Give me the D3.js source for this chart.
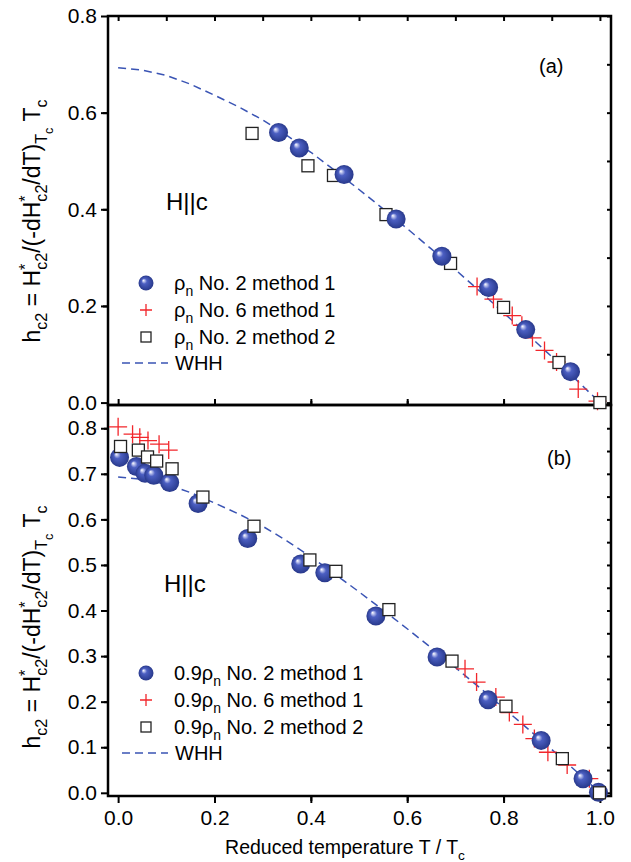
<!DOCTYPE html>
<html>
<head>
<meta charset="utf-8">
<script src="https://cdn.jsdelivr.net/npm/d3@7"></script>
<style>
  body { margin: 0; background: #fff; }
  text { font-family: "Liberation Sans", Arial, sans-serif; fill: #000; }
</style>
</head>
<body>
<div id="chart"></div>
<script>
// ---- data ----
// WHH curve (same in both panels)
var whhT = [0, 0.05, 0.1, 0.15, 0.2, 0.25, 0.3, 0.35, 0.4, 0.45, 0.5, 0.55, 0.6, 0.65, 0.7, 0.75, 0.8, 0.85, 0.9, 0.95, 1.0];
var whhH = [0.693, 0.688, 0.677, 0.659, 0.636, 0.612, 0.585, 0.553, 0.518, 0.480, 0.441, 0.401, 0.360, 0.318, 0.275, 0.231, 0.186, 0.141, 0.095, 0.048, 0.0];

// panel (a): rho_n
var tA_sphere = [0.333, 0.376, 0.469, 0.577, 0.672, 0.769, 0.846, 0.939];
var hA_sphere = [0.559, 0.527, 0.472, 0.380, 0.303, 0.238, 0.151, 0.064];
var tA_cross = [0.745, 0.779, 0.818, 0.838, 0.86, 0.885, 0.91, 0.955, 0.995];
var hA_cross = [0.240, 0.214, 0.180, 0.160, 0.134, 0.108, 0.084, 0.028, 0.003];
var tA_square = [0.278, 0.394, 0.447, 0.556, 0.690, 0.800, 0.915, 1.0];
var hA_square = [0.557, 0.490, 0.470, 0.389, 0.288, 0.197, 0.083, 0.0];

// panel (b): 0.9 rho_n
var tB_sphere = [0.003, 0.038, 0.056, 0.074, 0.107, 0.166, 0.269, 0.379, 0.429, 0.535, 0.662, 0.768, 0.878, 0.965, 0.997];
var hB_sphere = [0.736, 0.716, 0.701, 0.697, 0.681, 0.635, 0.558, 0.502, 0.483, 0.388, 0.298, 0.204, 0.115, 0.031, 0.001];
var tB_cross = [0.0, 0.03, 0.045, 0.062, 0.085, 0.105, 0.72, 0.744, 0.784, 0.812, 0.84, 0.864, 0.892, 0.932, 0.978];
var hB_cross = [0.803, 0.787, 0.780, 0.773, 0.765, 0.752, 0.272, 0.243, 0.210, 0.176, 0.150, 0.119, 0.089, 0.061, 0.031];
var tB_square = [0.005, 0.042, 0.061, 0.080, 0.112, 0.176, 0.282, 0.398, 0.452, 0.562, 0.693, 0.805, 0.922, 0.999];
var hB_square = [0.760, 0.752, 0.737, 0.728, 0.711, 0.649, 0.585, 0.511, 0.486, 0.402, 0.289, 0.190, 0.075, 0.0];

// tick labels
var xTicks = [0, 0.2, 0.4, 0.6, 0.8, 1.0];
var yTopTicks = [0, 0.2, 0.4, 0.6, 0.8];
var yBotTicks = [0, 0.1, 0.2, 0.3, 0.4, 0.5, 0.6, 0.7, 0.8];

var legendA = ["No. 2 method 1", "No. 6 method 1", "No. 2 method 2", "WHH"];
var legendB = ["No. 2 method 1", "No. 6 method 1", "No. 2 method 2", "WHH"];

// ---- layout ----
var svg = d3.select("#chart").append("svg")
    .attr("width", 631)
    .attr("height", 862);

var x = d3.scaleLinear().domain([-0.021, 1.023]).range([108, 611]);
var yTop = d3.scaleLinear().domain([-0.005, 0.8]).range([405, 16]);
var yBot = d3.scaleLinear().domain([-0.007, 0.851]).range([796, 405]);

var fmt = d3.format(".1f");
var red = "#f2262b";
var blue = "#3a54b4";

// sphere gradient
var defs = svg.append("defs");
var grad = defs.append("radialGradient")
    .attr("id", "ball")
    .attr("cx", "50%").attr("cy", "50%").attr("r", "50%")
    .attr("fx", "32%").attr("fy", "32%");
grad.append("stop").attr("offset", "0%").attr("stop-color", "#ffffff");
grad.append("stop").attr("offset", "12%").attr("stop-color", "#c4caf0");
grad.append("stop").attr("offset", "36%").attr("stop-color", "#4c5fc2");
grad.append("stop").attr("offset", "80%").attr("stop-color", "#33459d");
grad.append("stop").attr("offset", "100%").attr("stop-color", "#28388a");

function range(a, b, s) {
    return d3.range(Math.round(a / s), Math.round(b / s) + 1).map(i => +(i * s).toFixed(3));
}

// draw a set of ticks with an axis generator, no domain line
function ticks(axis, tx, ty, labels) {
    var g = svg.append("g")
        .attr("transform", `translate(${tx}, ${ty})`)
        .call(axis);
    g.select(".domain").remove();
    g.selectAll(".tick line").attr("stroke", "#000").attr("stroke-width", 2);
    if (labels) {
        g.selectAll(".tick text")
            .attr("font-size", 21)
            .attr("font-family", "Liberation Sans, Arial, sans-serif")
            .attr("fill", "#000");
    } else {
        g.selectAll(".tick text").remove();
    }
    return g;
}

// text with sub / superscripts
function richText(sel, parts, size) {
    var cur = 0;
    parts.forEach(function(p) {
        var fs = size, off = 0, dx = 0;
        if (p[1] === "sub") { fs = size * 0.7; off = size * 0.3; }
        if (p[1] === "sup") { fs = size * 0.7; off = -size * 0.4; }
        if (p[1] === "stack") { fs = size * 0.7; off = size * 0.3; dx = -size * 0.27; }
        if (p[1] === "subsub") { fs = size * 0.55; off = size * 0.55; }
        sel.append("tspan")
            .attr("font-size", fs)
            .attr("dy", off - cur)
            .attr("dx", dx)
            .text(p[0]);
        cur = off;
    });
}

// frames
svg.append("rect").attr("x", 108).attr("y", 16).attr("width", 503).attr("height", 389)
    .attr("fill", "none").attr("stroke", "#000").attr("stroke-width", 2.5);
svg.append("rect").attr("x", 108).attr("y", 405).attr("width", 503).attr("height", 391)
    .attr("fill", "none").attr("stroke", "#000").attr("stroke-width", 2.5);

// panel (a) ticks
ticks(d3.axisLeft(yTop).tickValues(yTopTicks).tickSize(7).tickPadding(4).tickFormat(fmt), 108, 0, true);
ticks(d3.axisLeft(yTop).tickValues(range(0.1, 0.7, 0.2)).tickSize(5), 108, 0, false);
ticks(d3.axisLeft(yTop).tickValues(range(0, 0.8, 0.1)).tickSize(4), 611, 0, false);
ticks(d3.axisBottom(x).tickValues(range(0, 1, 0.1)).tickSize(5), 0, 16, false);
ticks(d3.axisTop(x).tickValues(xTicks).tickSize(6), 0, 405, false);
ticks(d3.axisTop(x).tickValues(range(0.1, 0.9, 0.2)).tickSize(4), 0, 405, false);

// panel (b) ticks
ticks(d3.axisLeft(yBot).tickValues(yBotTicks).tickSize(7).tickPadding(4).tickFormat(fmt), 108, 0, true);
ticks(d3.axisLeft(yBot).tickValues(range(0.05, 0.75, 0.1)).tickSize(4), 108, 0, false);
ticks(d3.axisLeft(yBot).tickValues(range(0, 0.8, 0.05)).tickSize(4), 611, 0, false);
ticks(d3.axisBottom(x).tickValues(xTicks).tickSize(7).tickPadding(7).tickFormat(fmt), 0, 796, true);
ticks(d3.axisBottom(x).tickValues(range(0.1, 0.9, 0.2)).tickSize(5), 0, 796, false);

// ---- marks ----
var line = d3.line().x(d => x(d[0]));

function whh(y) {
    svg.append("path")
        .datum(d3.zip(whhT, whhH))
        .attr("d", line.y(d => y(d[1])))
        .attr("fill", "none")
        .attr("stroke", blue)
        .attr("stroke-width", 1.5)
        .attr("stroke-dasharray", "8,5");
}

function crosses(ts, hs, y, s) {
    var g = svg.append("g");
    d3.zip(ts, hs).forEach(function(d) {
        var cx = x(d[0]), cy = y(d[1]);
        g.append("path")
            .attr("d", `M${cx - s},${cy}H${cx + s}M${cx},${cy - s}V${cy + s}`)
            .attr("stroke", red)
            .attr("stroke-width", 1.3)
            .attr("fill", "none");
    });
}

function squares(ts, hs, y, s) {
    svg.append("g").selectAll("rect")
        .data(d3.zip(ts, hs))
        .enter()
        .append("rect")
        .attr("x", d => x(d[0]) - s / 2)
        .attr("y", d => y(d[1]) - s / 2)
        .attr("width", s)
        .attr("height", s)
        .attr("fill", "#fff")
        .attr("stroke", "#222")
        .attr("stroke-width", 1.3);
}

function spheres(ts, hs, y, r) {
    svg.append("g").selectAll("circle")
        .data(d3.zip(ts, hs))
        .enter()
        .append("circle")
        .attr("cx", d => x(d[0]))
        .attr("cy", d => y(d[1]))
        .attr("r", r)
        .attr("fill", "url(#ball)");
}

// panel (a)
whh(yTop);
crosses(tA_cross, hA_cross, yTop, 9);
squares(tA_square, hA_square, yTop, 12);
spheres(tA_sphere, hA_sphere, yTop, 9.5);

// panel (b)
whh(yBot);
crosses(tB_cross, hB_cross, yBot, 9);
spheres(tB_sphere, hB_sphere, yBot, 9.5);
squares(tB_square, hB_square, yBot, 12);

// ---- legends ----
function legend(y0, prefix, labels) {
    var rows = [y0, y0 + 27, y0 + 54, y0 + 80];
    svg.append("circle").attr("cx", 146).attr("cy", rows[0]).attr("r", 7.5).attr("fill", "url(#ball)");
    svg.append("path")
        .attr("d", `M140,${rows[1]}H152M146,${rows[1] - 6}V${rows[1] + 6}`)
        .attr("stroke", red).attr("stroke-width", 1.3);
    svg.append("rect").attr("x", 141).attr("y", rows[2] - 5).attr("width", 10).attr("height", 10)
        .attr("fill", "#fff").attr("stroke", "#222").attr("stroke-width", 1.3);
    svg.append("line").attr("x1", 122).attr("x2", 168).attr("y1", rows[3]).attr("y2", rows[3])
        .attr("stroke", blue).attr("stroke-width", 1.5).attr("stroke-dasharray", "8,5");

    for (var i = 0; i < 3; i++) {
        var t = svg.append("text").attr("x", 174).attr("y", rows[i] + 7).attr("font-size", 20);
        richText(t, [[prefix + "ρ", "n"], ["n", "sub"], [" " + labels[i], "n"]], 20);
    }
    svg.append("text").attr("x", 175).attr("y", rows[3] + 7).attr("font-size", 20).text(labels[3]);
}

legend(283, "", legendA);
legend(673, "0.9", legendB);

// panel labels
svg.append("text").attr("x", 539).attr("y", 73).attr("font-size", 20).text("(a)");
svg.append("text").attr("x", 547).attr("y", 465).attr("font-size", 20).text("(b)");
svg.append("text").attr("x", 166).attr("y", 210).attr("font-size", 24).text("H||c");
svg.append("text").attr("x", 164).attr("y", 592).attr("font-size", 24).text("H||c");

// axis titles
var titleParts = [["h", "n"], ["c2", "sub"], [" = H", "n"], ["*", "sup"], ["c2", "stack"],
    ["/(-dH", "n"], ["*", "sup"], ["c2", "stack"], ["/dT)", "n"], ["T", "sub"], ["c", "subsub"],
    [" T", "n"], ["c", "sub"]];

[221, 627].forEach(function(cy) {
    var t = svg.append("text")
        .attr("transform", `translate(40, ${cy}) rotate(-90)`)
        .attr("text-anchor", "middle")
        .attr("font-size", 23);
    richText(t, titleParts, 23);
});

var xl = svg.append("text")
    .attr("x", 345)
    .attr("y", 854)
    .attr("text-anchor", "middle")
    .attr("font-size", 19.5);
richText(xl, [["Reduced temperature T / T", "n"], ["c", "sub"]], 19.5);
</script>
</body>
</html>
